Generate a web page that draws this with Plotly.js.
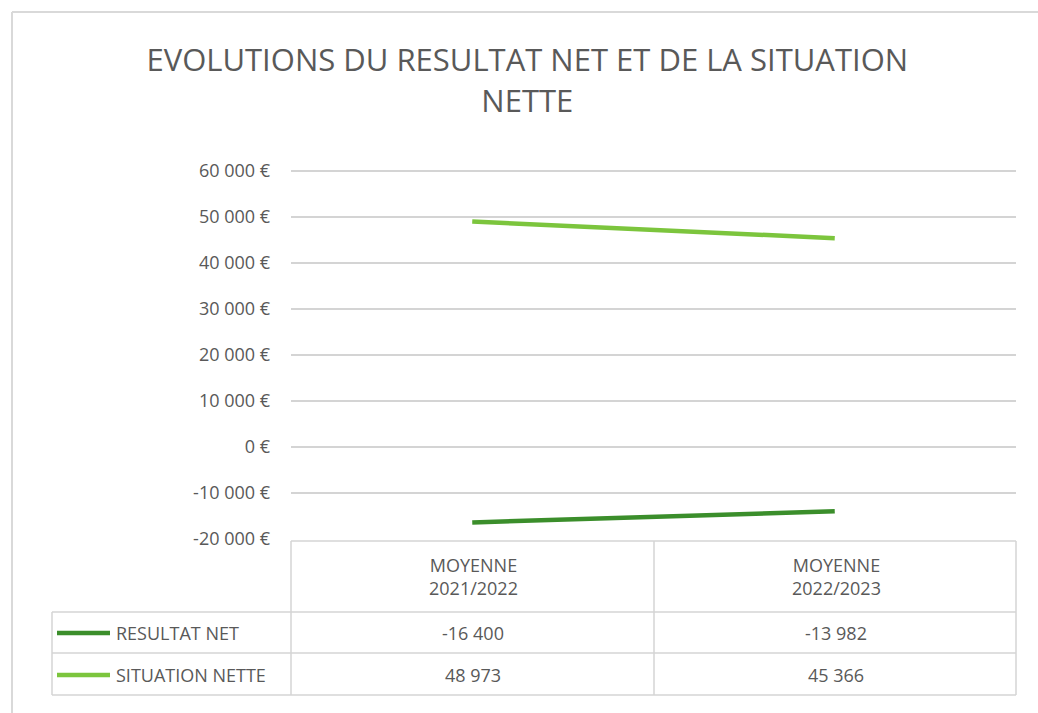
<!DOCTYPE html>
<html>
<head>
<meta charset="utf-8">
<script src="https://cdn.plot.ly/plotly-3.0.1.min.js"></script>
<style>html,body{margin:0;padding:0;background:#fff;}#chart{width:1038px;height:713px;}</style>
</head>
<body>
<div id="chart"></div>
<script>
const categories = ["MOYENNE<br>2021/2022", "MOYENNE<br>2022/2023"];
const seriesNames = ["RESULTAT NET", "SITUATION NETTE"];
const resultatNet = [-16400, -13982];
const situationNette = [48973, 45366];
const tableTexts = [["-16 400", "-13 982"], ["48 973", "45 366"]];
const yTickVals = [-20000, -10000, 0, 10000, 20000, 30000, 40000, 50000, 60000];
const yTickText = ["-20 000 €", "-10 000 €", "0 €", "10 000 €", "20 000 €", "30 000 €", "40 000 €", "50 000 €", "60 000 €"];
const titleText = "EVOLUTIONS DU RESULTAT NET ET DE LA SITUATION<br>NETTE";

const colors = ["#3b8e2b", "#7cc53d"];
const seriesValues = [resultatNet, situationNette];
const FONT = "Open Sans, DejaVu Sans, sans-serif";
const gray = "#595959";
const lineGray = "#d4d4d4";

const traces = seriesValues.map((vals, i) => ({
  type: "scatter", mode: "lines",
  x: categories, y: vals, name: seriesNames[i],
  line: {color: colors[i], width: 4.5},
  hoverinfo: "skip"
}));

// paper coordinate helpers (plot area: x 291..1016, y 169..539)
const L = 291, R = 22, T = 169, B = 174;
const W = 1038 - L - R, H = 713 - T - B;
const px = x => (x - L) / W;
const py = y => (713 - B - y) / H;

const shapes = [];
function hline(x0, x1, y, color, w) {
  shapes.push({type: "line", xref: "paper", yref: "paper", x0: px(x0), x1: px(x1), y0: py(y), y1: py(y), line: {color: color || lineGray, width: w || 1.5}});
}
function vline(x, y0, y1, color, w) {
  shapes.push({type: "line", xref: "paper", yref: "paper", x0: px(x), x1: px(x), y0: py(y0), y1: py(y1), line: {color: color || lineGray, width: w || 1.5}});
}
// data table grid
hline(291, 1016, 541);
hline(52, 1016, 612);
hline(52, 1016, 653);
hline(52, 1016, 695);
vline(52, 612, 695);
vline(291, 541, 695);
vline(654, 541, 695);
vline(1016, 541, 695);
// chart area border
hline(12, 1038, 12, "#d9d9d9", 2);
vline(12, 12, 713, "#d9d9d9", 2);

const annotations = [];
const rowY = [633, 675];
const colX = [473, 836];
categories.forEach((c, j) => {
  annotations.push({xref: "paper", yref: "paper", x: px(colX[j]), y: py(576), text: c, showarrow: false,
    font: {family: FONT, size: 18, color: gray}, xanchor: "center", yanchor: "middle"});
});
seriesNames.forEach((n, i) => {
  shapes.push({type: "line", xref: "paper", yref: "paper", x0: px(57), x1: px(110), y0: py(rowY[i]), y1: py(rowY[i]), line: {color: colors[i], width: 4.5}});
  annotations.push({xref: "paper", yref: "paper", x: px(114), y: py(rowY[i]), text: n, showarrow: false,
    font: {family: FONT, size: 18, color: gray}, xanchor: "left", yanchor: "middle"});
  tableTexts[i].forEach((t, j) => {
    annotations.push({xref: "paper", yref: "paper", x: px(colX[j]), y: py(rowY[i]), text: t, showarrow: false,
      font: {family: FONT, size: 18, color: gray}, xanchor: "center", yanchor: "middle"});
  });
});

const layout = {
  width: 1038, height: 713,
  margin: {l: L, r: R, t: T, b: B, pad: 0},
  paper_bgcolor: "#fff", plot_bgcolor: "#fff",
  showlegend: false,
  title: {text: titleText, x: 0.508, xanchor: "center", y: 0.9, yanchor: "top",
    font: {family: FONT, size: 31, color: gray}},
  xaxis: {type: "category", showticklabels: false, showgrid: false, zeroline: false, showline: false, ticks: "", range: [-0.5, 1.5]},
  yaxis: {range: [-20000, 60400], tickvals: yTickVals, ticktext: yTickText,
    showgrid: true, gridcolor: lineGray, gridwidth: 1.5, zeroline: false, showline: false, ticks: "",
    ticklabelstandoff: 20,
    tickfont: {family: FONT, size: 18, color: gray}},
  shapes: shapes,
  annotations: annotations
};

Plotly.newPlot("chart", traces, layout, {displayModeBar: false, staticPlot: true});
</script>
</body>
</html>
